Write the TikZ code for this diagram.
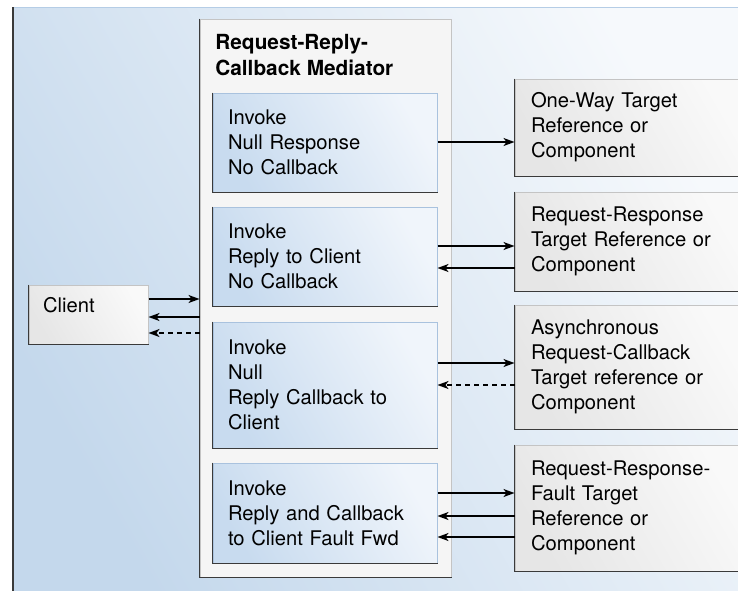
\documentclass[tikz,border=0pt]{standalone}
\usepackage{fontspec}
\setmainfont{TeX Gyre Heros}
\usetikzlibrary{arrows.meta,positioning}

\definecolor{bgblue}{HTML}{C4D8EC}
\definecolor{bgwhite}{HTML}{F6F9FC}
\definecolor{bgedge}{HTML}{B5CDE6}
\definecolor{boxblue}{HTML}{C8DBEF}
\definecolor{boxpale}{HTML}{F0F5FB}
\definecolor{boxedge}{HTML}{A9C2DE}
\definecolor{panelgray}{HTML}{E6E6E6}
\definecolor{panelpale}{HTML}{F9F9F9}
\definecolor{paneledge}{HTML}{C4C4C4}
\definecolor{darkedge}{HTML}{3A3A3A}

\tikzset{every picture/.style={line width=0.75pt}}
\tikzset{
  txt/.style={font=\fontsize{20.2}{25}\selectfont},
  invbox/.style={txt, draw=boxedge, line width=1pt, left color=boxblue, right color=boxpale,
    shading angle=120, text width=194pt, inner xsep=15pt, inner ysep=0pt, align=left},
  tgtbox/.style={txt, draw=paneledge, line width=1pt, left color=panelgray, right color=panelpale,
    shading angle=120, text width=198pt, inner xsep=16pt, inner ysep=0pt, align=left},
  medbox/.style={draw=paneledge, line width=1pt, fill=panelpale!80!panelgray, inner sep=0pt},
  shadowline/.style={darkedge, line width=1.5pt},
  flow/.style={line width=1.5pt, -{Stealth[length=11pt,width=8pt,inset=3pt]}},
  cbflow/.style={flow, dash pattern=on 5pt off 4pt}
}

\begin{document}
\begin{tikzpicture}[x=1pt,y=1pt,yscale=-1,xscale=1]
\useasboundingbox (0,0) rectangle (738,590);
\clip (0,0) rectangle (738,590);

%Shape: Rectangle (backdrop)
\fill[left color=bgblue, right color=bgwhite, shading angle=120] (12,7) rectangle (750,600);
\draw[bgedge, line width=1.5pt] (12,7.5) -- (750,7.5);
\draw[darkedge, line width=2pt] (13,7) -- (13,600);

%Shape: Rectangle (client)
\node[tgtbox, text width=91pt, inner xsep=14pt, text height=14pt, text depth=18pt,
  inner ysep=13.5pt] (client) at (88.5,314.5) {Client};

%Shape: Rectangle (mediator)
\node[medbox, minimum width=251pt, minimum height=558pt] (mediator) at (325.5,298) {};
% Text Node
\node[font=\fontsize{20.8}{26}\selectfont\bfseries, anchor=north west, align=left, inner sep=0pt]
  (medtitle) at (215,33.5) {Request-Reply-\\Callback Mediator};

%Shape: Rectangle (mediator cases)
\node[invbox, minimum height=99pt] (nullresp) at (325,142.5) {Invoke\\Null Response\\No Callback};
\node[invbox, minimum height=99pt] (replyclient) at (325,256.5) {Invoke\\Reply to Client\\No Callback};
\node[invbox, minimum height=126pt] (replynull) at (325,385) {Invoke\\Null\\Reply Callback to\\Client};
\node[invbox, minimum height=100pt] (faultfwd) at (325,513) {Invoke\\Reply and Callback\\to Client Fault Fwd};

%Shape: Rectangle (targets)
\node[tgtbox, minimum height=97pt] (oneway) at (630,127.5) {One-Way Target\\Reference or\\Component};
\node[tgtbox, minimum height=99pt] (reqresp) at (630,241.5) {Request-Response\\Target Reference or\\Component};
\node[tgtbox, minimum height=124pt] (asyncb) at (630,367) {Asynchronous\\Request-Callback\\Target reference or\\Component};
\node[tgtbox, minimum height=126pt] (reqfault) at (630,508) {Request-Response-\\Fault Target\\Reference or\\Component};

% shadow edges
\foreach \n in {client,mediator,nullresp,replyclient,replynull,faultfwd,oneway,reqresp,asyncb,reqfault}
  \draw[shadowline] (\n.north west) -- (\n.south west) -- (\n.south east);

%Straight Lines (client)
\draw[flow] ([yshift=-15.5pt]client.east) -- ([yshift=-15.5pt]client.east -| mediator.west);
\draw[flow] ([yshift=2.5pt]client.east -| mediator.west) -- ([yshift=2.5pt]client.east);
\draw[cbflow] ([yshift=18.5pt]client.east -| mediator.west) -- ([yshift=18.5pt]client.east);

%Straight Lines (targets)
\draw[flow] ([yshift=-0.5pt]nullresp.east) -- ([yshift=-0.5pt]nullresp.east -| oneway.west);
\draw[flow] ([yshift=-10.5pt]replyclient.east) -- ([yshift=-10.5pt]replyclient.east -| reqresp.west);
\draw[flow] ([yshift=11.5pt]replyclient.east -| reqresp.west) -- ([yshift=11.5pt]replyclient.east);
\draw[flow] ([yshift=-22pt]replynull.east) -- ([yshift=-22pt]replynull.east -| asyncb.west);
\draw[cbflow] (replynull.east -| asyncb.west) -- (replynull.east);
\draw[flow] ([yshift=-20pt]faultfwd.east) -- ([yshift=-20pt]faultfwd.east -| reqfault.west);
\draw[flow] ([yshift=3pt]faultfwd.east -| reqfault.west) -- ([yshift=3pt]faultfwd.east);
\draw[flow] ([yshift=24pt]faultfwd.east -| reqfault.west) -- ([yshift=24pt]faultfwd.east);

\end{tikzpicture}
\end{document}
